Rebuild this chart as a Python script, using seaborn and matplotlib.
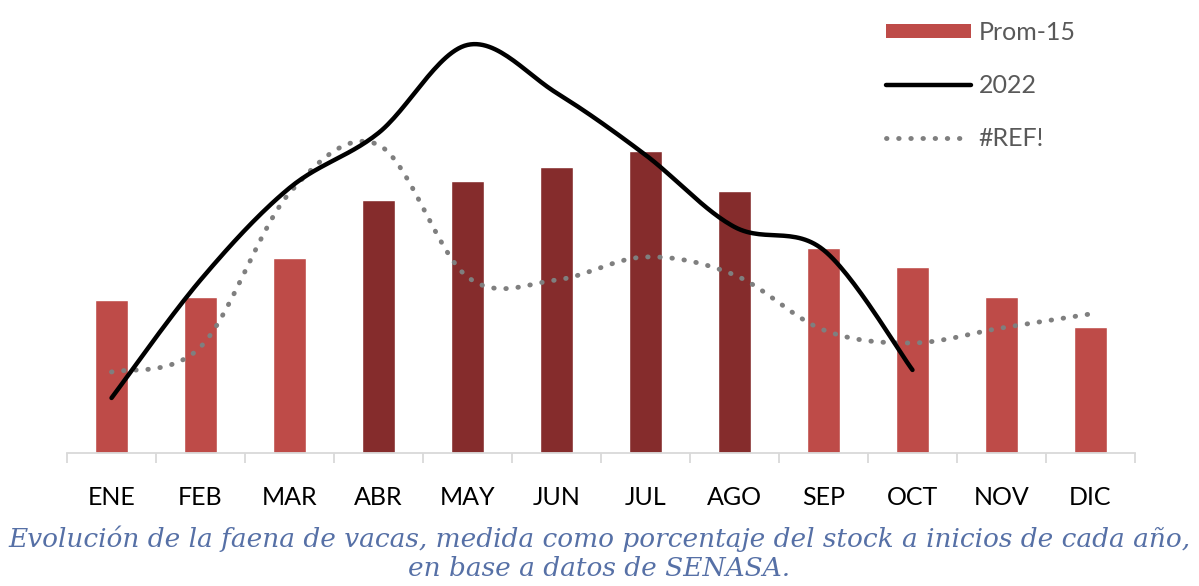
import numpy as np
import seaborn as sns
import matplotlib.pyplot as plt
from matplotlib.lines import Line2D
from matplotlib.patches import Patch

# Data (arbitrary units, no y axis shown)
months = ["ENE", "FEB", "MAR", "ABR", "MAY", "JUN", "JUL", "AGO", "SEP", "OCT", "NOV", "DIC"]
prom15 = [0.765, 0.78, 0.975, 1.265, 1.36, 1.43, 1.51, 1.31, 1.025, 0.93, 0.78, 0.63]
y2022 = [0.275, 0.865, 1.325, 1.60, 2.04, 1.80, 1.49, 1.13, 1.015, 0.415]
ref = [0.405, 0.53, 1.30, 1.54, 0.88, 0.865, 0.98, 0.89, 0.615, 0.55, 0.625, 0.695]

light = "#BE4B48"
dark = "#852C2C"
bar_colors = [dark if m in ("ABR", "MAY", "JUN", "JUL", "AGO") else light for m in months]


def smooth(values, n=30):
    # Excel-style smoothed line (uniform Catmull-Rom through the points)
    p = np.asarray(values, dtype=float)
    x = np.arange(len(p), dtype=float)
    pts = np.column_stack([x, p])
    pts = np.vstack([pts[0], pts, pts[-1]])
    out = []
    t = np.linspace(0, 1, n)
    for i in range(1, len(pts) - 2):
        p0, p1, p2, p3 = pts[i - 1], pts[i], pts[i + 1], pts[i + 2]
        c1 = p1 + (p2 - p0) / 6
        c2 = p2 - (p3 - p1) / 6
        seg = ((1 - t) ** 3)[:, None] * p1 + (3 * (1 - t) ** 2 * t)[:, None] * c1 \
            + (3 * (1 - t) * t ** 2)[:, None] * c2 + (t ** 3)[:, None] * p2
        out.append(seg)
    arr = np.vstack(out)
    return arr[:, 0], arr[:, 1]


sns.set_style("white")
plt.rcParams["font.family"] = ["Lato", "DejaVu Sans"]

fig = plt.figure(figsize=(11.99, 5.86), dpi=100)
ax = fig.add_axes([0.0559, 0.227, 0.8907, 0.739])

sns.barplot(x=months, y=prom15, hue=months, palette=bar_colors, legend=False,
            width=0.38, ax=ax, saturation=1)

dots = (0, (0.1, 2.4))
sx, sy = smooth(ref)
ax.plot(sx, sy, color="#7F7F7F", lw=3.5, linestyle=dots,
        dash_capstyle="round", zorder=3)
sx, sy = smooth(y2022)
ax.plot(sx, sy, color="black", lw=3.2, solid_capstyle="round", zorder=4)

ax.set_xlim(-0.5, 11.5)
ax.set_ylim(0, 2.165)
ax.set_yticks([])
ax.set_ylabel("")
for s in ["top", "right", "left"]:
    ax.spines[s].set_visible(False)
ax.spines["bottom"].set_color("#D9D9D9")
ax.spines["bottom"].set_linewidth(1.3)

ax.set_xticks(np.arange(-0.5, 12, 1), minor=False)
ax.set_xticklabels([])
ax.set_xticks(np.arange(12), minor=True)
ax.set_xticklabels(months, minor=True)
ax.tick_params(axis="x", which="major", direction="out", length=7, width=1.3,
               color="#D9D9D9", bottom=True)
ax.tick_params(axis="x", which="minor", length=0, pad=24, labelsize=18,
               labelcolor="black")

handles = [
    Patch(facecolor=light, edgecolor="none"),
    Line2D([], [], color="black", lw=3.2),
    Line2D([], [], color="#7F7F7F", lw=3.5, linestyle=dots, dash_capstyle="round"),
]
ax.legend(handles, ["Prom-15", "2022", "#REF!"], loc="upper left",
          bbox_to_anchor=(0.746, 1.05), frameon=False, fontsize=18,
          labelcolor="#595959", handlelength=3.4, handleheight=0.5,
          labelspacing=1.2, handletextpad=0.3)

fig.text(0.5, 0.056, "Evolución de la faena de vacas, medida como porcentaje del stock a inicios de cada año,\n"
         "en base a datos de SENASA.", ha="center", va="center", fontsize=19,
         style="italic", family="DejaVu Serif", color="#5670A6", linespacing=1.2)

fig.savefig("out.png", dpi=100)
